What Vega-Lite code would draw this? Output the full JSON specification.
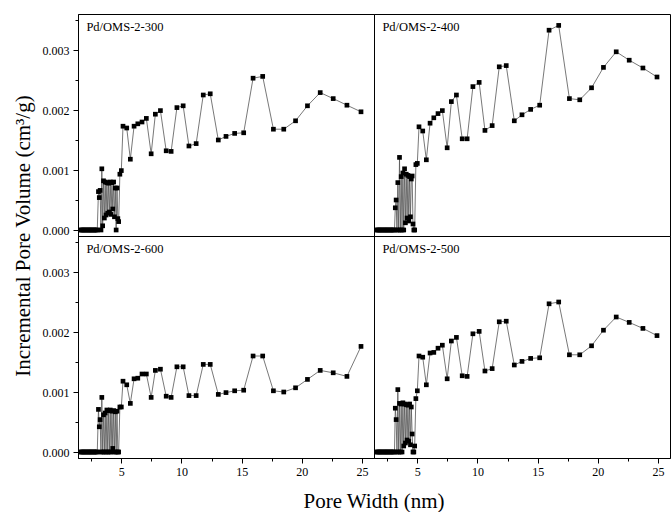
{
  "$schema": "https://vega.github.io/schema/vega-lite/v6.json",
  "background": "white",
  "bounds": "flush",
  "padding": {"left": 12, "top": 13, "right": 0, "bottom": 0},
  "data": {"values": [
    {"x":1.6,"300":0,"400":0,"500":0,"600":0},
    {"x":1.7,"300":0,"400":0,"500":0,"600":0},
    {"x":1.8,"300":0,"400":0,"500":0,"600":0},
    {"x":1.9,"300":0,"400":0,"500":0,"600":0},
    {"x":2.0,"300":0,"400":0,"500":0,"600":0},
    {"x":2.1,"300":0,"400":0,"500":0,"600":0},
    {"x":2.2,"300":0,"400":0,"500":0,"600":0},
    {"x":2.3,"300":0,"400":0,"500":0,"600":0},
    {"x":2.4,"300":0,"400":0,"500":0,"600":0},
    {"x":2.5,"300":0,"400":0,"500":0,"600":0},
    {"x":2.6,"300":0,"400":0,"500":0,"600":0},
    {"x":2.7,"300":0,"400":0,"500":0,"600":0},
    {"x":2.8,"300":0,"400":0,"500":0,"600":0},
    {"x":2.9,"300":0,"400":0,"500":0,"600":0},
    {"x":3.0,"300":0,"400":0,"500":0,"600":0},
    {"x":3.10,"300":0.00064,"400":0,"500":0,"600":0.00071},
    {"x":3.17,"300":0.00054,"400":0.00037,"500":0.00073,"600":0.00042},
    {"x":3.24,"300":0.00066,"400":0.00050,"500":0.00054,"600":0.00054},
    {"x":3.31,"300":0,"400":0,"500":0,"600":0},
    {"x":3.38,"300":0.00102,"400":0.00079,"500":0.00104,"600":0.00091},
    {"x":3.45,"300":0.00007,"400":0,"500":0,"600":0},
    {"x":3.52,"300":0.00082,"400":0.00121,"500":0.00081,"600":0.00062},
    {"x":3.59,"300":0.00020,"400":0,"500":0,"600":0},
    {"x":3.66,"300":0.00080,"400":0.00089,"500":0.00080,"600":0.00065},
    {"x":3.73,"300":0.00025,"400":0,"500":0,"600":0},
    {"x":3.80,"300":0.00079,"400":0.00095,"500":0.00082,"600":0.00070},
    {"x":3.87,"300":0.00028,"400":0,"500":0.00010,"600":0},
    {"x":3.94,"300":0.00078,"400":0.00102,"500":0.00080,"600":0.00069},
    {"x":4.01,"300":0.00030,"400":0.00012,"500":0.00015,"600":0},
    {"x":4.08,"300":0.00080,"400":0.00093,"500":0.00079,"600":0.00070},
    {"x":4.15,"300":0.00026,"400":0.00020,"500":0.00020,"600":0},
    {"x":4.22,"300":0.00079,"400":0.00091,"500":0.00078,"600":0.00068},
    {"x":4.29,"300":0.00035,"400":0.00015,"500":0.00018,"600":0.00006},
    {"x":4.36,"300":0.00080,"400":0.00089,"500":0.00080,"600":0.00069},
    {"x":4.43,"300":0.00022,"400":0.00022,"500":0.00012,"600":0},
    {"x":4.50,"300":0.00070,"400":0.00085,"500":0.00075,"600":0.00067},
    {"x":4.57,"300":0,"400":0.00090,"500":0.00030,"600":0},
    {"x":4.64,"300":0.00070,"400":0.00010,"500":0,"600":0.00068},
    {"x":4.71,"300":0.00019,"400":0,"500":0,"600":0},
    {"x":4.78,"300":0.00014,"400":0,"500":0.00010,"600":0},
    {"x":4.88,"300":0.00093,"400":0.00109,"500":0.00089,"600":0.00075},
    {"x":5.00,"300":0.00099,"400":0.00111,"500":0.00102,"600":0.00075},
    {"x":5.14,"300":0.00173,"400":0.00172,"500":0.00160,"600":0.00118},
    {"x":5.45,"300":0.00170,"400":0.00165,"500":0.00158,"600":0.00112},
    {"x":5.75,"300":0.00118,"400":0.00117,"500":0.00112,"600":0.00081},
    {"x":6.06,"300":0.00173,"400":0.00178,"500":0.00165,"600":0.00122},
    {"x":6.37,"300":0.00177,"400":0.00187,"500":0.00166,"600":0.00123},
    {"x":6.72,"300":0.00180,"400":0.00194,"500":0.00173,"600":0.00130},
    {"x":7.08,"300":0.00186,"400":0.00199,"500":0.00178,"600":0.00130},
    {"x":7.48,"300":0.00127,"400":0.00137,"500":0.00122,"600":0.00091},
    {"x":7.83,"300":0.00193,"400":0.00214,"500":0.00185,"600":0.00136},
    {"x":8.25,"300":0.00199,"400":0.00225,"500":0.00191,"600":0.00138},
    {"x":8.73,"300":0.00132,"400":0.00152,"500":0.00127,"600":0.00093},
    {"x":9.14,"300":0.00131,"400":0.00152,"500":0.00126,"600":0.00091},
    {"x":9.62,"300":0.00204,"400":0.00239,"500":0.00197,"600":0.00142},
    {"x":10.14,"300":0.00207,"400":0.00246,"500":0.00201,"600":0.00142},
    {"x":10.62,"300":0.00140,"400":0.00166,"500":0.00135,"600":0.00094},
    {"x":11.22,"300":0.00144,"400":0.00174,"500":0.00139,"600":0.00094},
    {"x":11.81,"300":0.00225,"400":0.00272,"500":0.00217,"600":0.00146},
    {"x":12.39,"300":0.00227,"400":0.00274,"500":0.00218,"600":0.00146},
    {"x":13.06,"300":0.00150,"400":0.00182,"500":0.00145,"600":0.00096},
    {"x":13.7,"300":0.00156,"400":0.00192,"500":0.00151,"600":0.00099},
    {"x":14.42,"300":0.00161,"400":0.00201,"500":0.00156,"600":0.00102},
    {"x":15.17,"300":0.00162,"400":0.00208,"500":0.00157,"600":0.00103},
    {"x":15.95,"300":0.00253,"400":0.00333,"500":0.00247,"600":0.00160},
    {"x":16.75,"300":0.00256,"400":0.00341,"500":0.00250,"600":0.00160},
    {"x":17.64,"300":0.00168,"400":0.00219,"500":0.00162,"600":0.00102},
    {"x":18.5,"300":0.00168,"400":0.00217,"500":0.00162,"600":0.00100},
    {"x":19.48,"300":0.00182,"400":0.00237,"500":0.00177,"600":0.00107},
    {"x":20.47,"300":0.00207,"400":0.00271,"500":0.00203,"600":0.00121},
    {"x":21.53,"300":0.00229,"400":0.00297,"500":0.00225,"600":0.00136},
    {"x":22.61,"300":0.00219,"400":0.00283,"500":0.00216,"600":0.00132},
    {"x":23.75,"300":0.00208,"400":0.00270,"500":0.00206,"600":0.00126},
    {"x":24.92,"300":0.00197,"400":0.00255,"500":0.00194,"600":0.00176}
  ]},
  "transform": [
    {"fold": ["300","400","500","600"], "as": ["s","y"]},
    {"lookup": "s", "from": {"data": {"values": [
      {"s":"300","label":"Pd/OMS-2-300","r":1,"c":1},
      {"s":"400","label":"Pd/OMS-2-400","r":1,"c":2},
      {"s":"600","label":"Pd/OMS-2-600","r":2,"c":1},
      {"s":"500","label":"Pd/OMS-2-500","r":2,"c":2}
    ]}, "key": "s", "fields": ["label","r","c"]}}
  ],
  "facet": {
    "row": {"field": "r", "type": "ordinal", "header": {"labels": false, "title": "Incremental Pore Volume (cm³/g)", "titleFont": "Liberation Serif", "titleFontSize": 21, "titleFontWeight": "normal", "titleColor": "black", "titlePadding": -2}},
    "column": {"field": "c", "type": "ordinal", "header": {"labels": false, "title": "Pore Width (nm)", "titleOrient": "bottom", "titleFont": "Liberation Serif", "titleFontSize": 21, "titleFontWeight": "normal", "titleColor": "black", "titlePadding": 4}}
  },
  "spacing": {"row": 0, "column": 0},
  "spec": {
    "width": 296,
    "height": 222,
    "encoding": {
      "x": {"field": "x", "type": "quantitative",
        "scale": {"domain": [1.4, 26], "nice": false, "zero": false},
        "axis": {"title": null, "grid": false, "values": [2.5,5,7.5,10,12.5,15,17.5,20,22.5,25],
          "labelExpr": "datum.value % 5 === 0 ? datum.label : ''",
          "tickSize": {"condition": {"test": "datum.value % 5 === 0", "value": 5}, "value": 3},
          "labelFont": "Liberation Serif", "labelFontSize": 12, "labelColor": "black", "labelPadding": 3,
          "tickColor": "black", "domainColor": "black", "labelFlush": false}},
      "y": {"field": "y", "type": "quantitative",
        "scale": {"domain": [-0.0001, 0.0036], "nice": false, "zero": false},
        "axis": {"title": null, "grid": false, "values": [0,0.0005,0.001,0.0015,0.002,0.0025,0.003,0.0035],
          "format": ".3f",
          "labelExpr": "round(datum.value*10000) % 10 === 0 ? datum.label : ''",
          "tickSize": {"condition": {"test": "round(datum.value*10000) % 10 === 0", "value": 5}, "value": 3},
          "labelFont": "Liberation Serif", "labelFontSize": 12, "labelColor": "black", "labelPadding": 4,
          "tickColor": "black", "domainColor": "black", "labelFlush": false}}
    },
    "layer": [
      {"mark": {"type": "line", "color": "#555555", "strokeWidth": 0.8}},
      {"mark": {"type": "point", "shape": "square", "filled": true, "color": "black", "opacity": 1, "size": 22}},
      {"transform": [{"filter": "datum.x === 1.6"}],
       "mark": {"type": "text", "align": "left", "baseline": "alphabetic", "font": "Liberation Serif", "fontSize": 12.5, "color": "black"},
       "encoding": {"x": {"datum": 2.1}, "y": {"datum": 0.00332}, "text": {"field": "label"}}}
    ]
  },
  "config": {
    "view": {"stroke": "black", "strokeWidth": 1},
    "font": "Liberation Serif"
  }
}
